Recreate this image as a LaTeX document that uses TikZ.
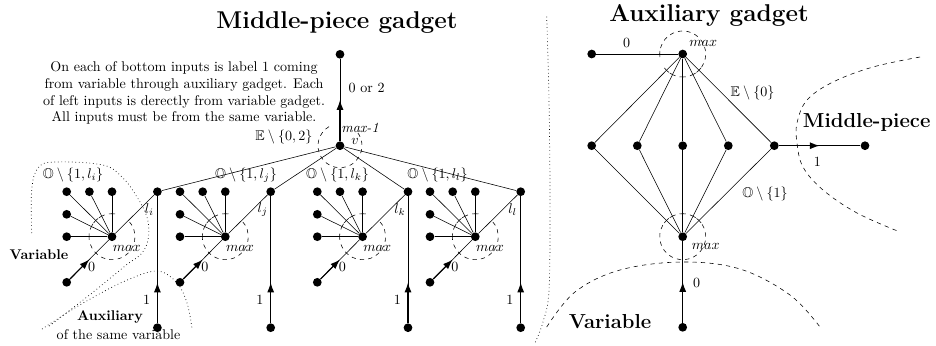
\documentclass[tikz,border=0pt]{standalone}
\usepackage{amssymb}
\usetikzlibrary{arrows.meta}

\begin{document}
\begin{tikzpicture}[x=0.025cm, y=0.025cm,
  dot/.style = {circle, fill, inner sep=0pt, minimum size=6.2pt},
  arr/.style = {line width=0.8pt, -{Latex[length=7pt, width=5pt]}},
  ring/.style = {dashed},
  region/.style = {dotted, line width=0.5pt},
  zone/.style = {dashed},
  heading/.style = {font=\LARGE\bfseries, anchor=base}]
  \useasboundingbox (0,0) rectangle (936,-345);

  \node[heading] (mptitle) at (337,-28.3) {Middle-piece gadget};
  \node[heading] (auxtitle) at (709,-21.7) {Auxiliary gadget};
  \node[align=center] (note) at (184,-93)
    {On each of bottom inputs is label 1 coming\\
     from variable through auxiliary gadget. Each\\
     of left inputs is derectly from variable gadget.\\
     All inputs must be from the same variable.};

  % middle-piece gadget
  \node[dot] (v) at (340,-145.7) {};
  \node[dot] (out) at (340,-54.3) {};
  \draw (v) -- (out);
  \path (v) -- (out) coordinate[pos=0.5] (vm);
  \draw[arr] (v) -- (vm);
  \draw[ring] ([shift={(120:22)}]v.center) arc[start angle=120, end angle=400, radius=22];
  \node (outlab) at (366.7,-87.7) {0 or 2};
  \node (vmax) at (360,-127.5) {\textit{max-1}};
  \node (vlab) at (355,-141) {$v$};
  \node (vset) at (284,-137.3) {$\mathbb{E}\setminus\{0,2\}$};

  \foreach \x/\n/\lx in {66.7/i/73, 180/j/246, 317.3/k/337.5, 430/l/437.5} {
    \node[dot] (c\n) at (\x+45.3,-236.7) {};
    \node[dot] (f\n1) at (\x,-236.7) {};
    \node[dot] (f\n2) at (\x,-214.3) {};
    \node[dot] (f\n3) at (\x,-191.7) {};
    \node[dot] (f\n4) at (\x+22.7,-191.7) {};
    \node[dot] (f\n5) at (\x+45.3,-191.7) {};
    \node[dot] (in\n) at (\x,-282.3) {};
    \node[dot] (l\n) at (\x+90.7,-191.7) {};
    \node[dot] (aux\n) at (\x+90.7,-327.7) {};
    \foreach \k in {1,...,5}
      \draw (c\n) -- (f\n\k);
    \draw (c\n) -- (l\n);
    \draw (aux\n) -- (l\n);
    \draw (in\n) -- (c\n);
    \draw (v) -- (l\n);
    \path (in\n) -- (c\n) coordinate[pos=0.5] (m\n);
    \draw[arr] (in\n) -- (m\n);
    \path (aux\n) -- (l\n) coordinate[pos=0.32] (u\n);
    \draw[arr] (aux\n) -- (u\n);
    \draw[ring] ([shift={(200:23)}]c\n.center) arc[start angle=200, end angle=405, radius=23];
    \foreach \a in {90,116.7,135.2,153.7,180}
      \draw ([shift={({\a-8}:23)}]c\n.center) arc[start angle=\a-8, end angle=\a+8, radius=23];
    \node (set\n) at (\lx,-175) {$\mathbb{O}\setminus\{1,l_\n\}$};
    \node (lab\n) at (\x+82.7,-210) {$l_\n$};
    \node (zero\n) at (\x+25,-266.7) {$0$};
    \node (one\n) at (\x+80,-300) {$1$};
    \node (max\n) at (\x+60,-248.5) {$max$};
  }

  \node (varlab) at (39,-255) {\bfseries Variable};
  \node (auxlab) at (110,-316.7) {\bfseries Auxiliary};
  \node (samelab) at (118.5,-335) {of the same variable};
  \draw[region] plot[smooth, tension=0.6] coordinates {(31.7,-233) (31.7,-190) (38,-168)
    (55,-162) (103,-165) (123,-178) (137,-197) (147,-217) (148.5,-237) (142,-253)
    (125,-266) (92,-293) (48,-327)};
  \draw[region] plot[smooth, tension=0.6] coordinates {(42,-329) (70,-311) (92,-298)
    (125,-281) (157,-271) (177,-283) (187,-303) (192,-328)};
  \draw[region] plot[smooth, tension=0.6] coordinates {(546.7,-16.7) (549,-100)
    (550,-200) (549,-290) (543,-322) (535,-343)};

  % auxiliary gadget
  \node[dot] (top) at (682.7,-54) {};
  \node[dot] (zero) at (591.7,-54) {};
  \foreach \x [count=\m] in {591.7,637.3,682.7,728.3,774.3}
    \node[dot] (r\m) at (\x,-145.7) {};
  \node[dot] (bot) at (682.7,-236.7) {};
  \node[dot] (var) at (682.7,-327.3) {};
  \node[dot] (mid) at (865,-145.7) {};
  \draw (zero) -- (top);
  \foreach \m in {1,...,5} {
    \draw (top) -- (r\m);
    \draw (bot) -- (r\m);
  }
  \draw (var) -- (bot);
  \path (var) -- (bot) coordinate[pos=0.5] (vb);
  \draw[arr] (var) -- (vb);
  \draw (r5) -- (mid);
  \path (r5) -- (mid) coordinate[pos=0.5] (rm);
  \draw[arr] (r5) -- (rm);
  \draw[ring] ([shift={(-35:23)}]top.center) arc[start angle=-35, end angle=165, radius=23];
  \foreach \a in {180,225.2,243.7,270,296.3,314.8}
    \draw ([shift={({\a-8}:23)}]top.center) arc[start angle=\a-8, end angle=\a+8, radius=23];
  \draw[ring] ([shift={(150:23)}]bot.center) arc[start angle=150, end angle=400, radius=23];
  \foreach \a in {44.8,63.7,90,116.3,135.2}
    \draw ([shift={({\a-8}:23)}]bot.center) arc[start angle=\a-8, end angle=\a+8, radius=23];
  \node (zerolab) at (626.7,-43.3) {$0$};
  \node (topmax) at (703.3,-43.3) {$max$};
  \node (eset) at (752.5,-93) {$\mathbb{E}\setminus\{0\}$};
  \node (oset) at (765,-194) {$\mathbb{O}\setminus\{1\}$};
  \node (botmax) at (705.7,-246) {$max$};
  \node (botzero) at (696.7,-283.3) {$0$};
  \node (onelab) at (817.3,-161.7) {$1$};
  \node[font=\Large\bfseries] (midlab) at (866.7,-122) {Middle-piece};
  \node[font=\Large\bfseries] (auxvar) at (610,-321.7) {Variable};
  \draw[zone] plot[smooth, tension=0.6] coordinates {(920,-57) (873,-67) (833,-82)
    (807,-100) (797,-123) (797,-143) (803,-167) (823,-190) (857,-213) (900,-232)};
  \draw[zone] plot[smooth, tension=0.6] coordinates {(546.7,-327) (575,-292) (620,-270)
    (682,-262) (740,-269) (790,-295) (820,-327)};
\end{tikzpicture}
\end{document}
